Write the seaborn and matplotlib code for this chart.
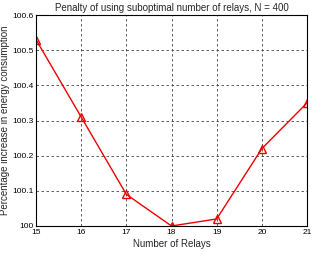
import matplotlib
matplotlib.use("Agg")
import matplotlib.pyplot as plt
import seaborn as sns
import pandas as pd
from matplotlib.ticker import FuncFormatter

relays = [15, 16, 17, 18, 19, 20, 21]
penalty = [100.53, 100.31, 100.09, 100.0, 100.02, 100.22, 100.35]
yticks = [100.0, 100.1, 100.2, 100.3, 100.4, 100.5, 100.6]

sns.set_theme(style="white")
plt.rcParams['font.family'] = ['Liberation Sans', 'DejaVu Sans']

df = pd.DataFrame({"Number of Relays": relays, "Penalty": penalty})

fig = plt.figure(figsize=(3.13, 2.54), dpi=100)
ax = fig.add_axes([36/313, 1 - 226/254, (307-36)/313, (226-15)/254])
sns.lineplot(data=df, x="Number of Relays", y="Penalty", ax=ax, color="#ee0000",
             marker="^", markersize=5.5, markerfacecolor="none", markeredgecolor="#ee0000",
             markeredgewidth=1.0, linewidth=1.0)
ax.set_xlim(15, 21)
ax.set_ylim(100, 100.6)
ax.set_xticks(relays)
ax.set_yticks(yticks)
ax.yaxis.set_major_formatter(FuncFormatter(lambda v, p: "%g" % round(v, 1)))
ax.grid(True, linestyle=(0, (3, 3)), color="#444444", linewidth=0.6)
for s in ax.spines.values():
    s.set_color("black")
    s.set_linewidth(0.8)
ax.tick_params(direction="in", length=3, labelsize=6, colors="black", pad=2)
ax.set_xlabel("Number of Relays", fontsize=7, labelpad=2)
ax.set_ylabel("Percentage increase in energy consumption", fontsize=7, labelpad=1)
ax.set_title("Penalty of using suboptimal number of relays, N = 400", fontsize=7, pad=3)
fig.savefig("out.png", dpi=100)
